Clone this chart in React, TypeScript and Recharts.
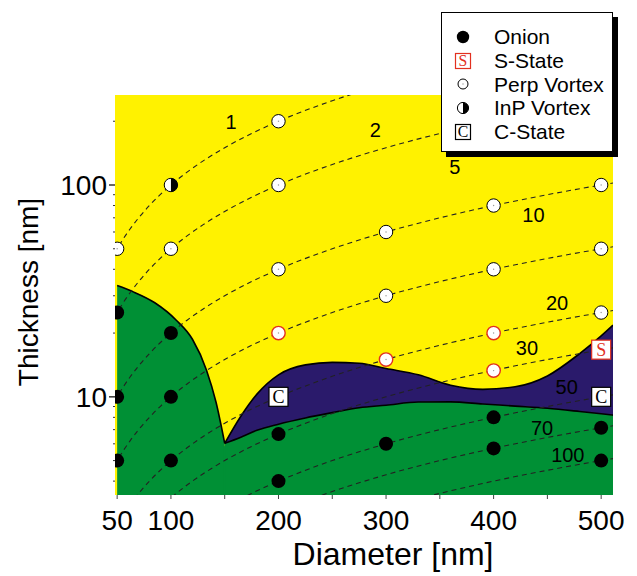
import React from "react"
import { ComposedChart, XAxis, YAxis, CartesianGrid, Area, Line, Scatter, Label } from "recharts"

const FONT = '"Liberation Sans", Arial, Helvetica, sans-serif'
const SERIF = '"Liberation Serif", "Times New Roman", serif'

const YELLOW = "#FFF200"
const GREEN = "#009035"
const NAVY = "#2A1A6B"
const RED = "#E2301F"

const X_MIN = 48
const X_MAX = 511
const Y_MIN = 3.44
const Y_MAX = 266

const X_TICKS = [50, 100, 150, 200, 250, 300, 350, 400, 450, 500]
const X_LABELED = [50, 100, 200, 300, 400, 500]
const Y_TICKS = [4, 5, 6, 7, 8, 9, 10, 20, 30, 40, 50, 60, 70, 80, 90, 100, 200]
const Y_LABELED = [10, 100]

// diameter / thickness ratio contours
const RATIOS = [1, 2, 5, 10, 20, 30, 50, 70, 100]
const CONTOUR_D = [40, 48, 55, 62, 70, 80, 90, 100, 115, 130, 150, 175, 200, 250, 300, 350, 400, 450, 500, 530]
const RATIO_LABEL_D = [156, 290, 364, 437, 459, 431, 468, 445, 469]
const RATIO_LABEL_T = [199, 182, 122, 72, 27.7, 17, 11.1, 7.1, 5.3]

// onion / vortex edge left of the cusp
const EDGE_LEFT_D = [50, 65, 85, 105, 120, 133, 142, 150]
const EDGE_LEFT_T = [33.5, 31.3, 27.8, 23, 18.7, 13.4, 9.4, 6.03]
// right of the cusp: onion top and C-state top
const EDGE_RIGHT_D = [150, 165, 180, 200, 225, 250, 275, 300, 330, 360, 390, 420, 450, 480, 500, 511]
const ONION_TOP_T = [6.03, 6.45, 6.95, 7.43, 7.95, 8.42, 8.88, 9.13, 9.45, 9.47, 9.25, 9.04, 8.83, 8.53, 8.32, 8.2]
const CSTATE_TOP_T = [6.03, 8.1, 10.3, 12.7, 14.15, 14.55, 14.4, 13.6, 12.7, 11.35, 10.85, 11.15, 12.55, 16.0, 19.4, 21.8]
const CUSP = { d: 150, t: 6.03 }

// measured states
const ONION = [
  { d: 50, t: 25 }, { d: 50, t: 10 }, { d: 50, t: 5 },
  { d: 100, t: 20 }, { d: 100, t: 10 }, { d: 100, t: 5 },
  { d: 200, t: 6.67 }, { d: 200, t: 4 },
  { d: 300, t: 6 },
  { d: 400, t: 8 }, { d: 400, t: 5.71 },
  { d: 500, t: 7.14 }, { d: 500, t: 5 },
]
const PERP_VORTEX = [
  { d: 50, t: 50 },
  { d: 100, t: 50 },
  { d: 200, t: 200 }, { d: 200, t: 100 }, { d: 200, t: 40 },
  { d: 300, t: 60 }, { d: 300, t: 30 },
  { d: 400, t: 80 }, { d: 400, t: 40 },
  { d: 500, t: 100 }, { d: 500, t: 50 }, { d: 500, t: 25 },
]
const PERP_VORTEX_S = [{ d: 200, t: 20 }, { d: 300, t: 15 }, { d: 400, t: 20 }, { d: 400, t: 13.3 }]
const INP_VORTEX = [{ d: 100, t: 100 }]
const S_STATE = [{ d: 500, t: 16.7 }]
const C_STATE = [{ d: 200, t: 10 }, { d: 500, t: 10 }]

const LEGEND_ITEMS = ["Onion", "S-State", "Perp Vortex", "InP Vortex", "C-State"]

const greenLeft = EDGE_LEFT_D.map((d, i) => ({ d, t: EDGE_LEFT_T[i], band: [Y_MIN, EDGE_LEFT_T[i]] }))
const greenRight = EDGE_RIGHT_D.map((d, i) => ({ d, t: ONION_TOP_T[i], band: [Y_MIN, ONION_TOP_T[i]] }))
const pocket = EDGE_RIGHT_D.map((d, i) => ({ d, t: CSTATE_TOP_T[i], band: [ONION_TOP_T[i], CSTATE_TOP_T[i]] }))
// closes the hairline where the two green fills meet under the cusp
const cuspSeam = [{ d: CUSP.d, t: Y_MIN }, { d: CUSP.d, t: CUSP.t * 0.97 }]
const contours = RATIOS.map((k) => CONTOUR_D.map((d) => ({ d, t: d / k })))
const ratioLabels = RATIOS.map((k, i) => ({ d: RATIO_LABEL_D[i], t: RATIO_LABEL_T[i], text: String(k) }))

function OnionDot({ cx, cy, r = 7 }: any) {
  return <circle cx={cx} cy={cy} r={r} fill="#000" />
}

function OpenDot({ cx, cy, r = 6.7, stroke = "#000" }: any) {
  return (
    <g>
      <circle cx={cx} cy={cy} r={r} fill="#fff" stroke={stroke} strokeWidth={stroke === "#000" ? 1 : 1.4} />
      <circle cx={cx} cy={cy} r={0.7} fill="#999" />
    </g>
  )
}

function HalfDot({ cx, cy, r = 6.7 }: any) {
  return (
    <g>
      <circle cx={cx} cy={cy} r={r} fill="#fff" stroke="#000" strokeWidth={1} />
      <path d={`M${cx},${cy - r} A${r},${r} 0 0 1 ${cx},${cy + r} Z`} fill="#000" />
    </g>
  )
}

function LetterBox({ cx, cy, size = 19, letter, color, scale = 0.95 }: any) {
  return (
    <g>
      <rect x={cx - size / 2} y={cy - size / 2} width={size} height={size} fill="#fff" stroke={color} strokeWidth={1.2} />
      <text x={cx} y={cy + size * 0.34} textAnchor="middle" fontFamily={SERIF} fontSize={size * scale} fill={color}>
        {letter}
      </text>
    </g>
  )
}

function XTick({ x, y, payload }: any) {
  const v = payload.value
  return (
    <g>
      <line x1={x} x2={x} y1={y} y2={y + 4} stroke="#444" strokeWidth={1} />
      {X_LABELED.includes(v) && (
        <text x={x} y={y + 35} textAnchor="middle" fontFamily={FONT} fontSize={28} fill="#000">
          {v}
        </text>
      )}
    </g>
  )
}

function YTick({ x, y, payload }: any) {
  const v = payload.value
  const major = Y_LABELED.includes(v)
  return (
    <g>
      <line x1={x - (major ? 6 : 2)} x2={x} y1={y} y2={y} stroke="#333" strokeWidth={major ? 1.5 : 1} />
      {major && (
        <text x={x - 8} y={y + 10} textAnchor="end" fontFamily={FONT} fontSize={28} fill="#000">
          {v}
        </text>
      )}
    </g>
  )
}

function RatioLabel({ cx, cy, payload }: any) {
  return (
    <text x={cx} y={cy + 7} textAnchor="middle" fontFamily={FONT} fontSize={20} fill="#000">
      {payload.text}
    </text>
  )
}

function LegendIcon({ name }: { name: string }) {
  const c = 10
  let icon = null
  if (name === "Onion") icon = <OnionDot cx={c} cy={c} r={6.2} />
  else if (name === "S-State") icon = <LetterBox cx={c} cy={c} size={15} letter="S" color={RED} scale={1.05} />
  else if (name === "Perp Vortex") icon = <OpenDot cx={c} cy={c} r={5} />
  else if (name === "InP Vortex") icon = <HalfDot cx={c} cy={c} r={5.6} />
  else icon = <LetterBox cx={c} cy={c} size={15} letter="C" color="#000" scale={1.05} />
  return (
    <svg width={20} height={20} style={{ display: "block" }}>
      {icon}
    </svg>
  )
}

function StateLegend() {
  return (
    <div
      style={{
        position: "absolute",
        left: 441,
        top: 12,
        width: 172,
        height: 140,
        boxSizing: "border-box",
        border: "1.5px solid #000",
        background: "#fff",
        boxShadow: "5px 5px 0 #000",
        paddingTop: 12,
      }}
    >
      {LEGEND_ITEMS.map((name) => (
        <div key={name} style={{ display: "flex", alignItems: "center", height: 23.7 }}>
          <div style={{ width: 20, marginLeft: 11, marginRight: 21 }}>
            <LegendIcon name={name} />
          </div>
          <span style={{ fontFamily: FONT, fontSize: 21, lineHeight: "23px", color: "#000" }}>{name}</span>
        </div>
      ))}
    </div>
  )
}

export default function App() {
  return (
    <div style={{ position: "absolute", left: 0, top: 0, width: 637, height: 576, background: "#fff" }}>
      <ComposedChart width={637} height={576} margin={{ top: 95, right: 24, bottom: 0, left: 0 }}>
        <CartesianGrid fill={YELLOW} fillOpacity={1} horizontal={false} vertical={false} stroke="none" />
        <XAxis
          type="number"
          dataKey="d"
          domain={[X_MIN, X_MAX]}
          ticks={X_TICKS}
          interval={0}
          allowDataOverflow
          axisLine={false}
          tickLine={false}
          tickSize={0}
          tickMargin={0}
          height={81}
          tick={XTick}
        >
          <Label
            content={({ viewBox }: any) => (
              <text x={viewBox.x + viewBox.width / 2 + 29} y={viewBox.y + 70} textAnchor="middle" fontFamily={FONT} fontSize={32} fill="#000">
                Diameter [nm]
              </text>
            )}
          />
        </XAxis>
        <YAxis
          type="number"
          scale="log"
          domain={[Y_MIN, Y_MAX]}
          ticks={Y_TICKS}
          interval={0}
          allowDataOverflow
          axisLine={false}
          tickLine={false}
          tickSize={0}
          tickMargin={0}
          width={115}
          tick={YTick}
        >
          <Label
            content={({ viewBox }: any) => {
              const cx = viewBox.x + 38
              const cy = viewBox.y + viewBox.height / 2 - 3
              return (
                <text x={cx} y={cy} transform={`rotate(-90 ${cx} ${cy})`} textAnchor="middle" fontFamily={FONT} fontSize={28} fill="#000">
                  Thickness [nm]
                </text>
              )
            }}
          />
        </YAxis>

        <Area data={greenLeft} dataKey="band" type="monotone" fill={GREEN} fillOpacity={1} stroke="none" isAnimationActive={false} activeDot={false} />
        <Area data={greenRight} dataKey="band" type="monotone" fill={GREEN} fillOpacity={1} stroke="none" isAnimationActive={false} activeDot={false} />
        <Line data={cuspSeam} dataKey="t" type="linear" stroke={GREEN} strokeWidth={1.6} dot={false} activeDot={false} isAnimationActive={false} />
        <Area data={pocket} dataKey="band" type="monotone" fill={NAVY} fillOpacity={1} stroke="none" isAnimationActive={false} activeDot={false} />

        <Line data={greenLeft} dataKey="t" type="monotone" stroke="#000" strokeWidth={1.6} dot={false} activeDot={false} isAnimationActive={false} />
        <Line data={greenRight} dataKey="t" type="monotone" stroke="#000" strokeWidth={1.6} dot={false} activeDot={false} isAnimationActive={false} />
        <Line data={pocket} dataKey="t" type="monotone" stroke="#000" strokeWidth={1.6} dot={false} activeDot={false} isAnimationActive={false} />

        {contours.map((pts, i) => (
          <Line
            key={RATIOS[i]}
            data={pts}
            dataKey="t"
            type="monotone"
            stroke="#222"
            strokeWidth={1.1}
            strokeDasharray="5 4"
            dot={false}
            activeDot={false}
            isAnimationActive={false}
          />
        ))}

        <Scatter data={ratioLabels} dataKey="t" shape={RatioLabel} isAnimationActive={false} />
        <Scatter data={ONION} dataKey="t" shape={(p: any) => <OnionDot cx={p.cx} cy={p.cy} />} isAnimationActive={false} />
        <Scatter data={PERP_VORTEX} dataKey="t" shape={(p: any) => <OpenDot cx={p.cx} cy={p.cy} />} isAnimationActive={false} />
        <Scatter data={PERP_VORTEX_S} dataKey="t" shape={(p: any) => <OpenDot cx={p.cx} cy={p.cy} stroke={RED} />} isAnimationActive={false} />
        <Scatter data={INP_VORTEX} dataKey="t" shape={(p: any) => <HalfDot cx={p.cx} cy={p.cy} />} isAnimationActive={false} />
        <Scatter data={S_STATE} dataKey="t" shape={(p: any) => <LetterBox cx={p.cx} cy={p.cy} letter="S" color={RED} />} isAnimationActive={false} />
        <Scatter data={C_STATE} dataKey="t" shape={(p: any) => <LetterBox cx={p.cx} cy={p.cy} letter="C" color="#000" />} isAnimationActive={false} />
      </ComposedChart>
      <StateLegend />
    </div>
  )
}
